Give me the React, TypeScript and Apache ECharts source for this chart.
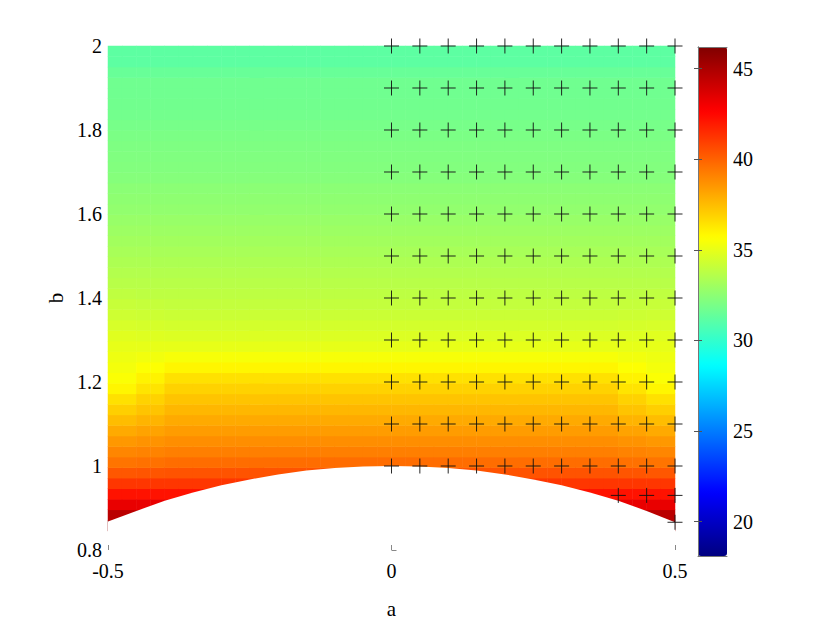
import React, { useEffect, useRef } from "react";
import * as echarts from "echarts";

// heatmap cell centres (a: 40 columns of width 0.025, b: 48 rows of height 0.025)
const A_CELLS = [
  -0.4875, -0.4625, -0.4375, -0.4125, -0.3875, -0.3625, -0.3375, -0.3125, -0.2875, -0.2625,
  -0.2375, -0.2125, -0.1875, -0.1625, -0.1375, -0.1125, -0.0875, -0.0625, -0.0375, -0.0125,
  0.0125, 0.0375, 0.0625, 0.0875, 0.1125, 0.1375, 0.1625, 0.1875, 0.2125, 0.2375,
  0.2625, 0.2875, 0.3125, 0.3375, 0.3625, 0.3875, 0.4125, 0.4375, 0.4625, 0.4875,
];
const B_CELLS = [
  0.8125, 0.8375, 0.8625, 0.8875, 0.9125, 0.9375, 0.9625, 0.9875,
  1.0125, 1.0375, 1.0625, 1.0875, 1.1125, 1.1375, 1.1625, 1.1875, 1.2125, 1.2375,
  1.2625, 1.2875, 1.3125, 1.3375, 1.3625, 1.3875, 1.4125, 1.4375, 1.4625, 1.4875,
  1.5125, 1.5375, 1.5625, 1.5875, 1.6125, 1.6375, 1.6625, 1.6875, 1.7125, 1.7375,
  1.7625, 1.7875, 1.8125, 1.8375, 1.8625, 1.8875, 1.9125, 1.9375, 1.9625, 1.9875,
];

// which profile each column uses: C = centre, M = transition, E = edge
const COLUMN_PROFILE = [
  "E", "E", "M", "M", "C", "C", "C", "C", "C", "C",
  "C", "C", "C", "C", "C", "C", "C", "C", "C", "C",
  "C", "C", "C", "C", "C", "C", "C", "C", "C", "C",
  "C", "C", "C", "C", "C", "C", "M", "M", "E", "E",
];

// values along b (ascending B_CELLS)
const CENTER_PROFILE = [
  null, null, 45.8, 44.6, 43.3, 42.2, 41.2, 40.4,
  39.7, 39.2, 38.8, 38.4, 38.0, 37.65, 37.3, 36.9, 36.5, 35.9,
  35.45, 35.0, 34.7, 34.45, 34.2, 34.0, 33.85, 33.7, 33.55, 33.4,
  33.25, 33.1, 32.95, 32.8, 32.65, 32.55, 32.45, 32.3, 32.2, 32.15,
  32.1, 32.0, 31.9, 31.8, 31.75, 31.7, 31.7, 31.5, 31.2, 31.2,
];
const MID_PROFILE = [
  null, null, 45.8, 44.6, 43.3, 42.2, 41.2, 40.35,
  39.6, 39.1, 38.65, 38.2, 37.75, 37.3, 36.9, 36.4, 36.0, 35.6,
  35.3, 35.0, 34.75, 34.5, 34.25, 34.05, 33.85, 33.7, 33.55, 33.4,
  33.25, 33.1, 32.95, 32.8, 32.65, 32.55, 32.45, 32.3, 32.2, 32.15,
  32.1, 32.0, 31.9, 31.8, 31.75, 31.7, 31.7, 31.5, 31.2, 31.2,
];
const EDGE_PROFILE = [
  null, null, 45.8, 44.6, 43.3, 42.2, 41.2, 40.3,
  39.5, 39.0, 38.5, 38.0, 37.5, 37.0, 36.5, 35.9, 35.55, 35.35,
  35.2, 35.0, 34.8, 34.55, 34.3, 34.1, 33.9, 33.7, 33.55, 33.4,
  33.25, 33.1, 32.95, 32.8, 32.65, 32.55, 32.45, 32.3, 32.2, 32.15,
  32.1, 32.0, 31.9, 31.8, 31.75, 31.7, 31.7, 31.5, 31.2, 31.2,
];

// lower edge of the coloured region
const BOUNDARY_A = [-0.5, -0.45, -0.4, -0.35, -0.3, -0.25, -0.2, -0.15, -0.1, -0.05, 0, 0.05, 0.1, 0.15, 0.2, 0.25, 0.3, 0.35, 0.4, 0.45, 0.5];
const BOUNDARY_B = [0.868, 0.893, 0.917, 0.937, 0.954, 0.968, 0.98, 0.989, 0.995, 0.999, 1.0, 0.999, 0.995, 0.989, 0.98, 0.968, 0.954, 0.937, 0.917, 0.893, 0.866];

// measurement markers
const PLUS_A = [0, 0.05, 0.1, 0.15, 0.2, 0.25, 0.3, 0.35, 0.4, 0.45, 0.5];
const PLUS_B = [1.0, 1.1, 1.2, 1.3, 1.4, 1.5, 1.6, 1.7, 1.8, 1.9, 2.0];
const EXTRA_PLUS_A = [0.4, 0.45, 0.5, 0.5];
const EXTRA_PLUS_B = [0.93, 0.93, 0.93, 0.866];

// axes / colour bar
const X_MIN = -0.5, X_MAX = 0.5, X_STEP = 0.5;
const Y_MIN = 0.8, Y_MAX = 2.0, Y_STEP = 0.2;
const C_MIN = 18.1, C_MAX = 46.2;
const COLORBAR_TICKS = [20, 25, 30, 35, 40, 45];
const JET = ["#000080", "#0000ff", "#0080ff", "#00ffff", "#80ff80", "#ffff00", "#ff8000", "#ff0000", "#800000"];

const FONT = "'Liberation Serif', 'DejaVu Serif', serif";

export default function App() {
  const ref = useRef<HTMLDivElement>(null);
  useEffect(() => {
    const chart = echarts.init(ref.current!, null, { renderer: "svg" });
    const profiles: Record<string, (number | null)[]> = { C: CENTER_PROFILE, M: MID_PROFILE, E: EDGE_PROFILE };
    const heat: [number, number, number][] = [];
    A_CELLS.forEach((_, i) => {
      const prof = profiles[COLUMN_PROFILE[i]];
      B_CELLS.forEach((__, j) => {
        const v = prof[j];
        if (v !== null && v !== undefined) heat.push([i, j, v]);
      });
    });
    const mask = BOUNDARY_A.map((a, i) => [a, BOUNDARY_B[i]]);
    const pluses: number[][] = [];
    PLUS_A.forEach((a) => PLUS_B.forEach((b) => pluses.push([a, b])));
    EXTRA_PLUS_A.forEach((a, i) => pluses.push([a, EXTRA_PLUS_B[i]]));

    const labelStyle = { color: "#000", fontFamily: FONT, fontSize: 20 };
    const tickStyle = { color: "#888", width: 1 };

    const option: any = {
      animation: false,
      backgroundColor: "#fff",
      grid: [
        { left: 108, top: 46, width: 567, height: 506 },
        { left: 108, top: 46, width: 567, height: 506 },
        { left: 698, top: 47, width: 29, height: 509 },
      ],
      visualMap: {
        type: "continuous",
        show: true,
        seriesIndex: 0,
        min: C_MIN,
        max: C_MAX,
        calculable: false,
        hoverLink: false,
        left: 698,
        top: 47,
        padding: 0,
        itemWidth: 29,
        itemHeight: 509,
        inRange: { color: JET },
        textStyle: { color: "transparent" },
      },
      xAxis: [
        { type: "category", gridIndex: 0, data: A_CELLS, show: false },
        {
          type: "value", gridIndex: 1, min: X_MIN, max: X_MAX, interval: X_STEP, z: 10,
          axisLine: { show: false },
          axisTick: { show: true, inside: true, length: 5, lineStyle: tickStyle },
          axisLabel: { ...labelStyle, margin: 11, formatter: (v: number) => String(+v.toFixed(1)) },
          splitLine: { show: false },
          name: "a", nameLocation: "middle", nameGap: 48,
          nameTextStyle: { color: "#000", fontFamily: FONT, fontSize: 21 },
        },
        {
          type: "value", gridIndex: 2, min: 0, max: 1, position: "bottom", z: 10,
          axisLine: { show: true, lineStyle: { color: "#777", width: 1 } },
          axisTick: { show: false }, axisLabel: { show: false }, splitLine: { show: false },
        },
        {
          type: "value", gridIndex: 2, min: 0, max: 1, position: "top", z: 10,
          axisLine: { show: true, lineStyle: { color: "#777", width: 1 } },
          axisTick: { show: false }, axisLabel: { show: false }, splitLine: { show: false },
        },
      ],
      yAxis: [
        { type: "category", gridIndex: 0, data: B_CELLS, show: false },
        {
          type: "value", gridIndex: 1, min: Y_MIN, max: Y_MAX, interval: Y_STEP, z: 10,
          axisLine: { show: false },
          axisTick: { show: true, inside: true, length: 5, lineStyle: tickStyle, customValues: [Y_MIN] },
          axisLabel: { ...labelStyle, margin: 6, formatter: (v: number) => String(+v.toFixed(1)) },
          splitLine: { show: false },
          name: "b", nameLocation: "middle", nameGap: 34,
          nameTextStyle: { color: "#000", fontFamily: FONT, fontSize: 21 },
        },
        {
          type: "value", gridIndex: 2, min: C_MIN, max: C_MAX, position: "right", z: 10,
          axisLine: { show: true, lineStyle: { color: "#777", width: 1 } },
          axisTick: { show: true, inside: true, length: 4, lineStyle: { color: "#555" }, customValues: COLORBAR_TICKS },
          axisLabel: { ...labelStyle, margin: 6, customValues: COLORBAR_TICKS },
          splitLine: { show: false },
        },
        {
          type: "value", gridIndex: 2, min: C_MIN, max: C_MAX, position: "left", z: 10,
          axisLine: { show: true, lineStyle: { color: "#777", width: 1 } },
          axisTick: { show: true, inside: true, length: 4, lineStyle: { color: "#555" }, customValues: COLORBAR_TICKS },
          axisLabel: { show: false },
          splitLine: { show: false },
        },
      ],
      series: [
        {
          type: "heatmap", xAxisIndex: 0, yAxisIndex: 0, data: heat, z: 1,
          progressive: 0, emphasis: { disabled: true },
        },
        {
          type: "line", xAxisIndex: 1, yAxisIndex: 1, data: mask, z: 3,
          symbol: "none", silent: true,
          lineStyle: { width: 0 },
          areaStyle: { color: "#ffffff", opacity: 1, origin: "start" },
        },
        {
          type: "scatter", xAxisIndex: 1, yAxisIndex: 1, data: pluses, z: 5, clip: false,
          symbol: "path://M0,-10L0,10M-10,0L10,0", symbolSize: 15, silent: true,
          itemStyle: { color: "none", borderColor: "#111", borderWidth: 1, opacity: 0.9 },
        },
        { type: "scatter", xAxisIndex: 2, yAxisIndex: 2, data: [], silent: true },
      ],
    };
    chart.setOption(option);
    return () => chart.dispose();
  }, []);
  return <div ref={ref} style={{ position: "fixed", left: 0, top: 0, width: 830, height: 624 }} />;
}
